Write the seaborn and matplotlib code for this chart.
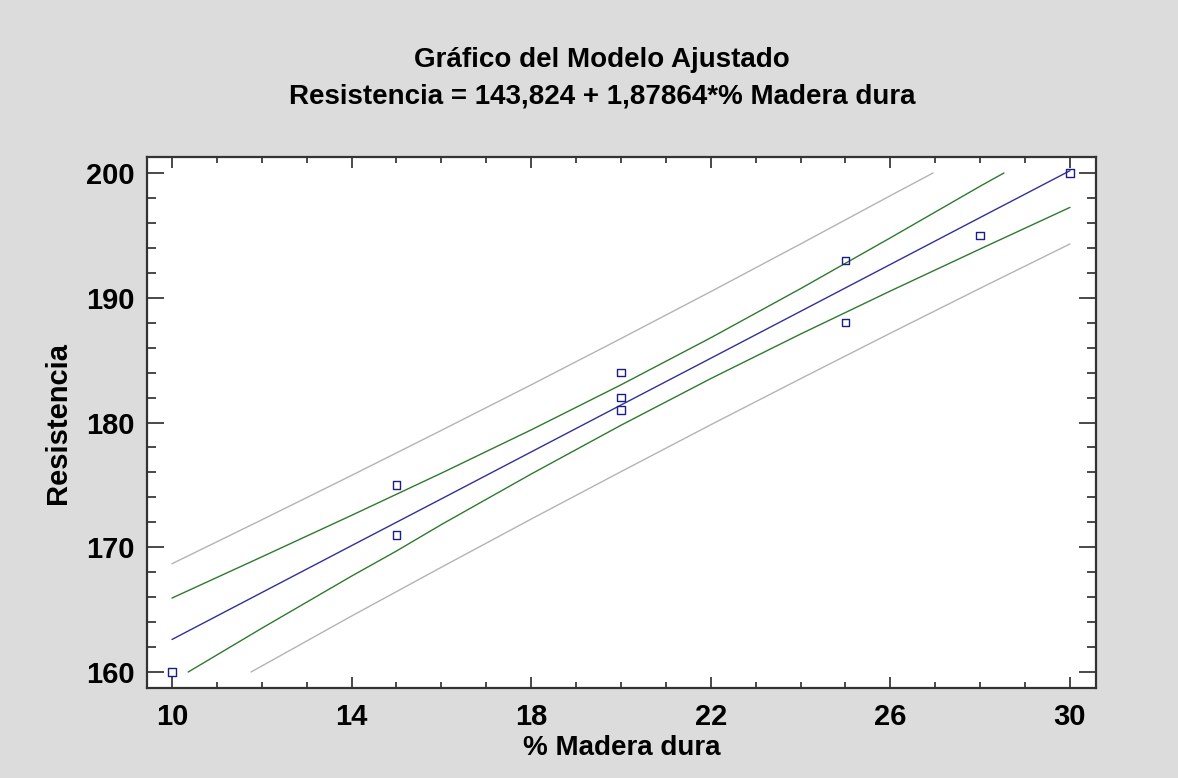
import numpy as np
import pandas as pd
import matplotlib
matplotlib.use("Agg")
import matplotlib.pyplot as plt
import seaborn as sns
from matplotlib.ticker import MultipleLocator

# ---- data ----
madera = [10, 15, 15, 20, 20, 20, 25, 25, 28, 30]
resistencia = [160, 171, 175, 181, 182, 184, 188, 193, 195, 200]

fit_x = [10, 12, 14, 16, 18, 20, 22, 24, 26, 28, 30]
fit_y = [162.61, 166.37, 170.13, 173.88, 177.64, 181.40, 185.15, 188.91, 192.67, 196.43, 200.18]

conf_up_x = [10, 12, 14, 16, 18, 20, 22, 24, 26, 28, 28.53]
conf_up_y = [165.93, 169.23, 172.56, 175.94, 179.41, 183.02, 186.79, 190.73, 194.80, 198.94, 200.0]
conf_lo_x = [10.36, 12, 14, 15, 16, 18, 20, 22, 24, 26, 28, 30]
conf_lo_y = [160.0, 163.51, 167.69, 169.70, 171.82, 175.87, 179.78, 183.52, 187.09, 190.54, 193.91, 197.24]

pred_up_x = [10, 12, 14, 16, 18, 20, 22, 24, 26, 26.95]
pred_up_y = [168.68, 172.20, 175.76, 179.37, 183.02, 186.73, 190.49, 194.31, 198.18, 200.0]
pred_lo_x = [11.76, 14, 16, 18, 20, 22, 24, 26, 28, 30]
pred_lo_y = [160.0, 164.49, 168.40, 172.26, 176.06, 179.82, 183.51, 187.16, 190.76, 194.31]

title_lines = ["Gráfico del Modelo Ajustado",
               "Resistencia = 143,824 + 1,87864*% Madera dura"]
x_label = "% Madera dura"
y_label = "Resistencia"
x_ticks = [10, 14, 18, 22, 26, 30]
y_ticks = [160, 170, 180, 190, 200]

# ---- style ----
BG = "#DCDCDC"
sns.set_theme(style="white")
plt.rcParams["font.family"] = ["Liberation Sans", "DejaVu Sans"]
plt.rcParams["text.color"] = "black"
plt.rcParams["xtick.labelcolor"] = "black"
plt.rcParams["ytick.labelcolor"] = "black"
plt.rcParams["axes.labelcolor"] = "black"

fig = plt.figure(figsize=(11.78, 7.78), dpi=100, facecolor=BG)
ax = fig.add_axes([147/1178, 1 - 688/778, (1096-147)/1178, (688-157)/778])
ax.set_facecolor("white")

def band(xs, ys, color, lw):
    df = pd.DataFrame({"x": xs, "y": ys})
    sns.lineplot(data=df, x="x", y="y", ax=ax, color=color, lw=lw,
                 estimator=None, sort=False)

band(pred_up_x, pred_up_y, "#B4B4B4", 1.0)
band(pred_lo_x, pred_lo_y, "#B4B4B4", 1.0)
band(conf_up_x, conf_up_y, "#2E7A2E", 1.0)
band(conf_lo_x, conf_lo_y, "#2E7A2E", 1.0)
band(fit_x, fit_y, "#30309A", 1.0)

pts = pd.DataFrame({"x": madera, "y": resistencia})
sns.scatterplot(data=pts, x="x", y="y", ax=ax, marker="s", s=30,
                facecolors="none", edgecolor="#1E1E80", linewidth=1.0, zorder=5)

ax.set_xlim(9.443, 30.58)
ax.set_ylim(158.72, 201.28)
ax.set_xticks(x_ticks)
ax.set_yticks(y_ticks)
ax.xaxis.set_minor_locator(MultipleLocator(1))
ax.yaxis.set_minor_locator(MultipleLocator(2))

ax.tick_params(axis="both", which="both", direction="in", top=True, right=True,
               bottom=True, left=True, color="#2A2A2A", width=1.2)
ax.tick_params(axis="x", which="major", length=8, pad=11, labelsize=21)
ax.tick_params(axis="x", which="minor", length=4.3)
ax.tick_params(axis="y", which="major", length=12, pad=9, labelsize=21)
ax.tick_params(axis="y", which="minor", length=6.5)
for lab in ax.get_xticklabels() + ax.get_yticklabels():
    lab.set_fontweight("bold")
for sp in ax.spines.values():
    sp.set_color("#333333")
    sp.set_linewidth(1.6)

ax.set_xlabel(x_label, fontsize=20, fontweight="bold", labelpad=3)
ax.set_ylabel(y_label, fontsize=21, fontweight="bold", labelpad=10)

fig.text(602/1178, 1 - 60/778, title_lines[0], ha="center", va="center",
         fontsize=20, fontweight="bold")
fig.text(602/1178, 1 - 97/778, title_lines[1], ha="center", va="center",
         fontsize=20, fontweight="bold")

fig.savefig("out.png", dpi=100, facecolor=BG)
